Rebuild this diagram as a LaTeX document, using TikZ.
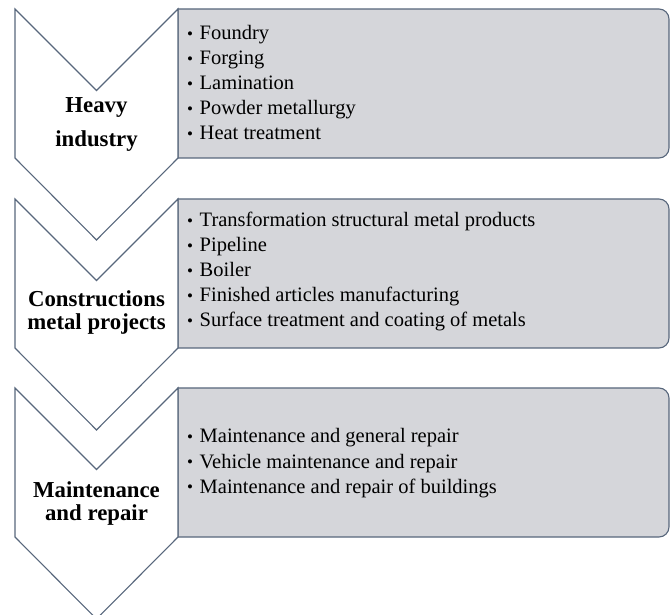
\documentclass[tikz,border=0pt]{standalone}
\usepackage{fontspec}
\setmainfont{Liberation Serif}
\definecolor{edge}{HTML}{58677C}
\definecolor{boxfill}{HTML}{D5D6DA}
\tikzset{
  chev/.style={draw=edge, fill=white, line width=1.1pt, line join=miter},
  listbox/.style={draw=edge, fill=boxfill, line width=1.1pt},
  item/.style={anchor=base west, inner sep=0pt, font=\fontsize{20.5}{25}\selectfont},
  lab/.style={anchor=base, inner sep=0pt, font=\fontsize{22.8}{25}\selectfont\bfseries},
}
\newcommand{\bul}[1]{\makebox[12.5pt][l]{\raisebox{0.3pt}{\fontsize{17}{17}\selectfont•}}#1}
\begin{document}
\begin{tikzpicture}[x=1pt,y=1pt]
\useasboundingbox (0,0) rectangle (670,614);
% boxes
\draw[listbox] (178,605) -- (659,605) arc[start angle=90,end angle=0,radius=10] -- (669,466) arc[start angle=0,end angle=-90,radius=10] -- (178,456) -- cycle;
\draw[listbox] (178,415) -- (659,415) arc[start angle=90,end angle=0,radius=10] -- (669,276) arc[start angle=0,end angle=-90,radius=10] -- (178,266) -- cycle;
\draw[listbox] (178,226) -- (659,226) arc[start angle=90,end angle=0,radius=10] -- (669,87) arc[start angle=0,end angle=-90,radius=10] -- (178,77) -- cycle;
% chevrons
\draw[chev] (15,605) -- (96.5,523.5) -- (178,605) -- (178,456) -- (96.5,374) -- (15,456) -- cycle;
\draw[chev] (15,415) -- (96.5,333.5) -- (178,415) -- (178,266) -- (96.5,184) -- (15,266) -- cycle;
\draw[chev] (15,226) -- (96.5,144.5) -- (178,226) -- (178,77) -- (96.5,-5) -- (15,77) -- cycle;
% labels
\node[lab] (l1a) at (96.5,501) {Heavy};
\node[lab] (l1b) at (96.5,467) {industry};
\node[lab] (l2a) at (96.5,307) {Constructions};
\node[lab] (l2b) at (96.5,284) {metal projects};
\node[lab] (l3a) at (96.5,117) {Maintenance};
\node[lab] (l3b) at (96.5,94) {and repair};
% items box 1
\node[item] (a1) at (187,574.5) {\bul{Foundry}};
\node[item] (a2) at (187,549.5) {\bul{Forging}};
\node[item] (a3) at (187,524.5) {\bul{Lamination}};
\node[item] (a4) at (187,499.5) {\bul{Powder metallurgy}};
\node[item] (a5) at (187,474.5) {\bul{Heat treatment}};
% items box 2
\node[item] (b1) at (187,387) {\bul{Transformation structural metal products}};
\node[item] (b2) at (187,362) {\bul{Pipeline}};
\node[item] (b3) at (187,337) {\bul{Boiler}};
\node[item] (b4) at (187,312) {\bul{Finished articles manufacturing}};
\node[item] (b5) at (187,287) {\bul{Surface treatment and coating of metals}};
% items box 3
\node[item] (c1) at (187,171) {\bul{Maintenance and general repair}};
\node[item] (c2) at (187,146) {\bul{Vehicle maintenance and repair}};
\node[item] (c3) at (187,121) {\bul{Maintenance and repair of buildings}};
\end{tikzpicture}
\end{document}
